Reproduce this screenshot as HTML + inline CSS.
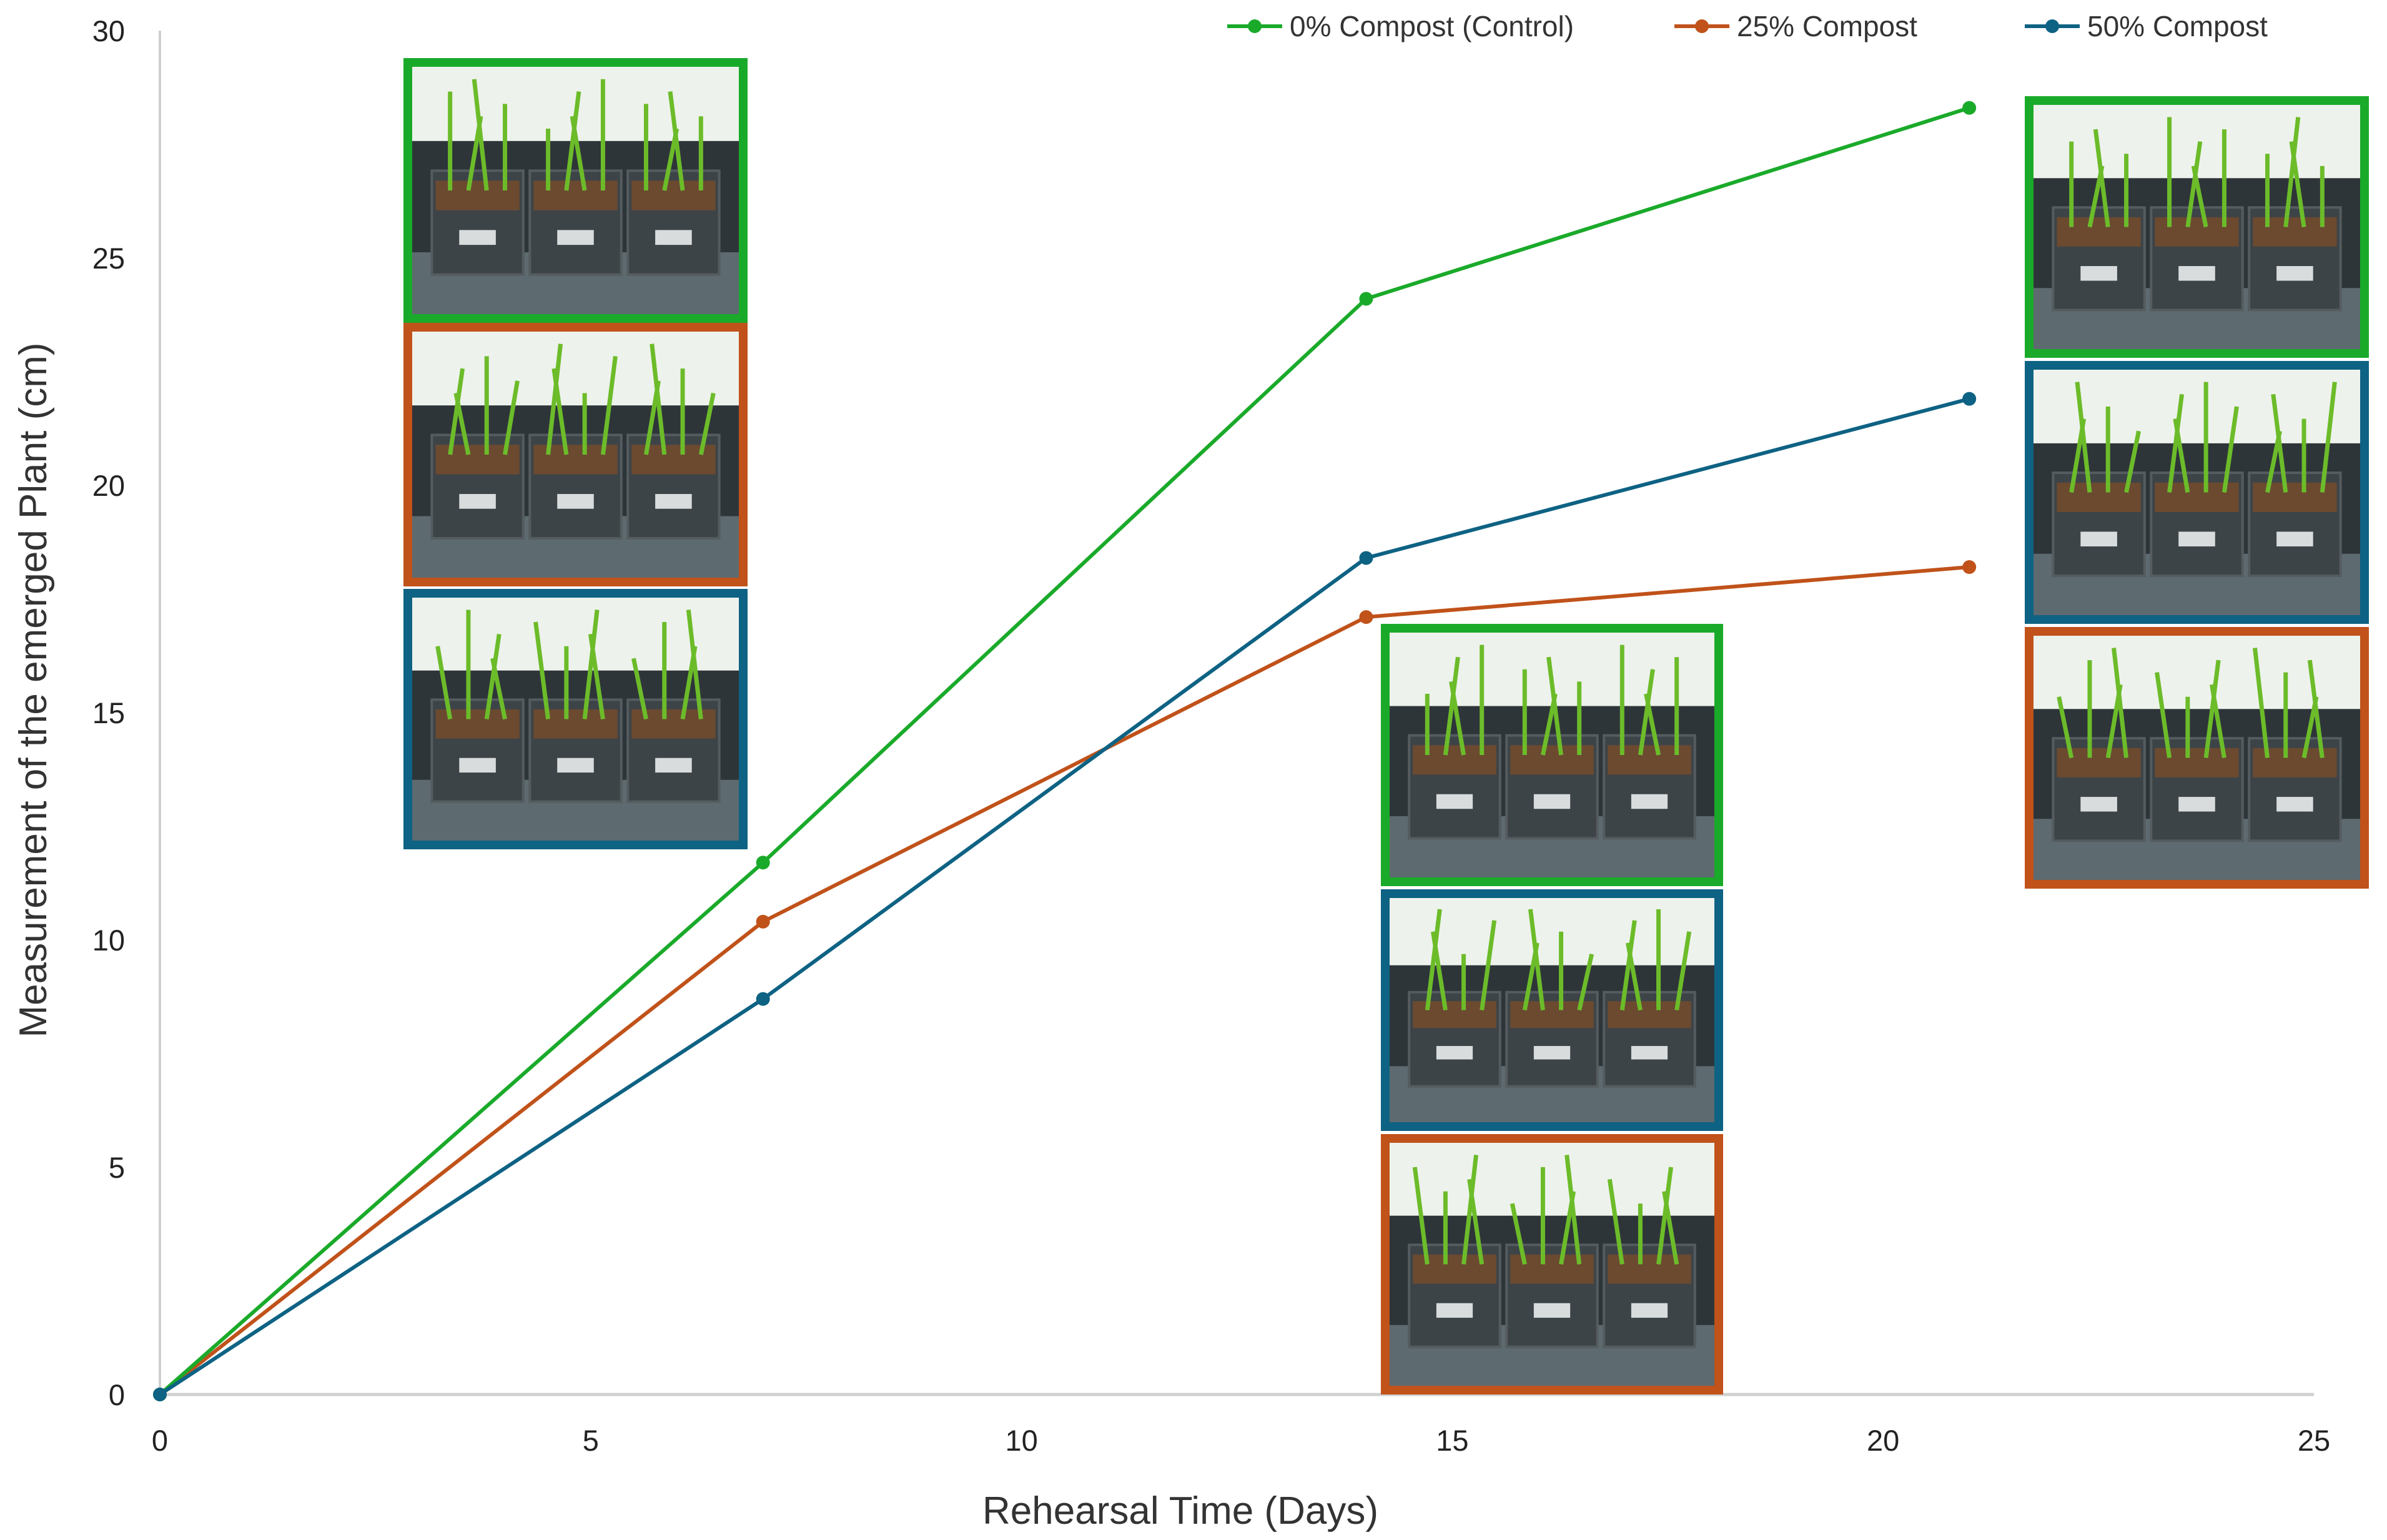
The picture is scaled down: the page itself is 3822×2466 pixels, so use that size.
<!DOCTYPE html>
<html><head><meta charset="utf-8"><style>
html,body{margin:0;padding:0;background:#fff;}
svg{display:block;font-family:"Liberation Sans",Arial,sans-serif;}
</style></head><body>
<svg id="chart" width="3822" height="2466" viewBox="0 0 3822 2466"></svg>
<script>
const days=[0,7,14,21];
const control=[0,11.7,24.1,28.3];
const compost25=[0,10.4,17.1,18.2];
const compost50=[0,8.7,18.4,21.9];
const xTicks=[0,5,10,15,20,25];
const yTicks=[0,5,10,15,20,25,30];
const seriesNames=["0% Compost (Control)","25% Compost","50% Compost"];

const NS="http://www.w3.org/2000/svg";
const svg=document.getElementById('chart');
const X0=256,X1=3705,Y0=2233,Y1=49;
const xs=v=>X0+(v-0)/(25-0)*(X1-X0);
const ys=v=>Y0-(v-0)/(30-0)*(Y0-Y1);
function mk(tag,attrs,parent){const e=document.createElementNS(NS,tag);for(const k in attrs)e.setAttribute(k,attrs[k]);(parent||svg).appendChild(e);return e;}
const GREEN="#1aaa2a",ORANGE="#c0521a",BLUE="#0e6283";

let ax=mk('line',{x1:X0,y1:Y1,x2:X0,y2:Y0,stroke:'#d0d0d0','stroke-width':4});


ax=mk('line',{x1:X0,y1:Y0,x2:X1,y2:Y0,stroke:'#d0d0d0','stroke-width':5});



yTicks.forEach(t=>{const e=mk('text',{x:200,y:ys(t)+17,'text-anchor':'end','font-size':47,fill:'#222'});e.textContent=t;

});
xTicks.forEach(t=>{const e=mk('text',{x:xs(t),y:2323,'text-anchor':'middle','font-size':47,fill:'#222'});e.textContent=t;

});
let tt=mk('text',{x:1890,y:2440,'text-anchor':'middle','font-size':62,fill:'#333'});tt.textContent='Rehearsal Time (Days)';


tt=mk('text',{x:0,y:0,'text-anchor':'middle','font-size':62,fill:'#333',transform:'translate(74,1105) rotate(-90)'});tt.textContent='Measurement of the emerged Plant (cm)';



function photo(x,y,w,h,color,seed,name){
  const g=mk('g',{});
  
  
  mk('rect',{x:x,y:y,width:w,height:h,fill:color},g);
  const b=14,ix=x+b,iy=y+b,iw=w-2*b,ih=h-2*b;
  mk('rect',{x:ix,y:iy,width:iw,height:ih,fill:'#eef2ec'},g);
  mk('rect',{x:ix,y:iy+ih*0.3,width:iw,height:ih*0.7,fill:'#2e3539'},g);
  mk('rect',{x:ix,y:iy+ih*0.75,width:iw,height:ih*0.25,fill:'#5d6a70'},g);
  for(let i=0;i<3;i++){
    const px=ix+iw*0.06+i*iw*0.3,pw=iw*0.28;
    mk('rect',{x:px,y:iy+ih*0.42,width:pw,height:ih*0.42,fill:'#3d4448',stroke:'#555c60','stroke-width':4},g);
    mk('rect',{x:px+6,y:iy+ih*0.46,width:pw-12,height:ih*0.12,fill:'#6b4a30'},g);
    mk('rect',{x:px+pw*0.3,y:iy+ih*0.66,width:pw*0.4,height:ih*0.06,fill:'#d8dcdc'},g);
    for(let k=0;k<4;k++){
      const bx=px+pw*(0.2+0.2*k),top=iy+ih*(0.05+((k*7+i*3+seed)%5)*0.05);
      mk('line',{x1:bx,y1:iy+ih*0.5,x2:bx+((k+seed)%3-1)*20,y2:top,stroke:'#6cbc2a','stroke-width':7},g);
    }
  }
}
photo(646,93,551,424,GREEN,1,'photo-day7-control');
photo(646,517,551,422,ORANGE,2,'photo-day7-25');
photo(646,943,551,417,BLUE,3,'photo-day7-50');
photo(2211,999,548,420,GREEN,4,'photo-day14-control');
photo(2211,1424,548,387,BLUE,5,'photo-day14-50');
photo(2211,1816,548,417,ORANGE,6,'photo-day14-25');
photo(3242,154,551,419,GREEN,7,'photo-day21-control');
photo(3242,578,551,421,BLUE,8,'photo-day21-50');
photo(3242,1004,551,419,ORANGE,9,'photo-day21-25');

function series(vals,color,name){
  const pts=days.map((d,i)=>xs(d)+','+ys(vals[i])).join(' ');
  const l=mk('polyline',{points:pts,fill:'none',stroke:color,'stroke-width':6,'stroke-linejoin':'round'});
  
  
  days.forEach((d,i)=>{const c=mk('circle',{cx:xs(d),cy:ys(vals[i]),r:11,fill:color});
    
    });
}
series(compost25,ORANGE,'compost-25');
series(control,GREEN,'control');
series(compost50,BLUE,'compost-50');

const leg=[[1965,GREEN],[2681,ORANGE],[3242,BLUE]];
leg.forEach((L,i)=>{
  const g=mk('g',{});
  
  
  mk('line',{x1:L[0],y1:42,x2:L[0]+88,y2:42,stroke:L[1],'stroke-width':6},g);
  mk('circle',{cx:L[0]+44,cy:42,r:11,fill:L[1]},g);
  const t=mk('text',{x:L[0]+100,y:58,'font-size':46,fill:'#333'},g);t.textContent=seriesNames[i];
});
</script>
</body></html>
